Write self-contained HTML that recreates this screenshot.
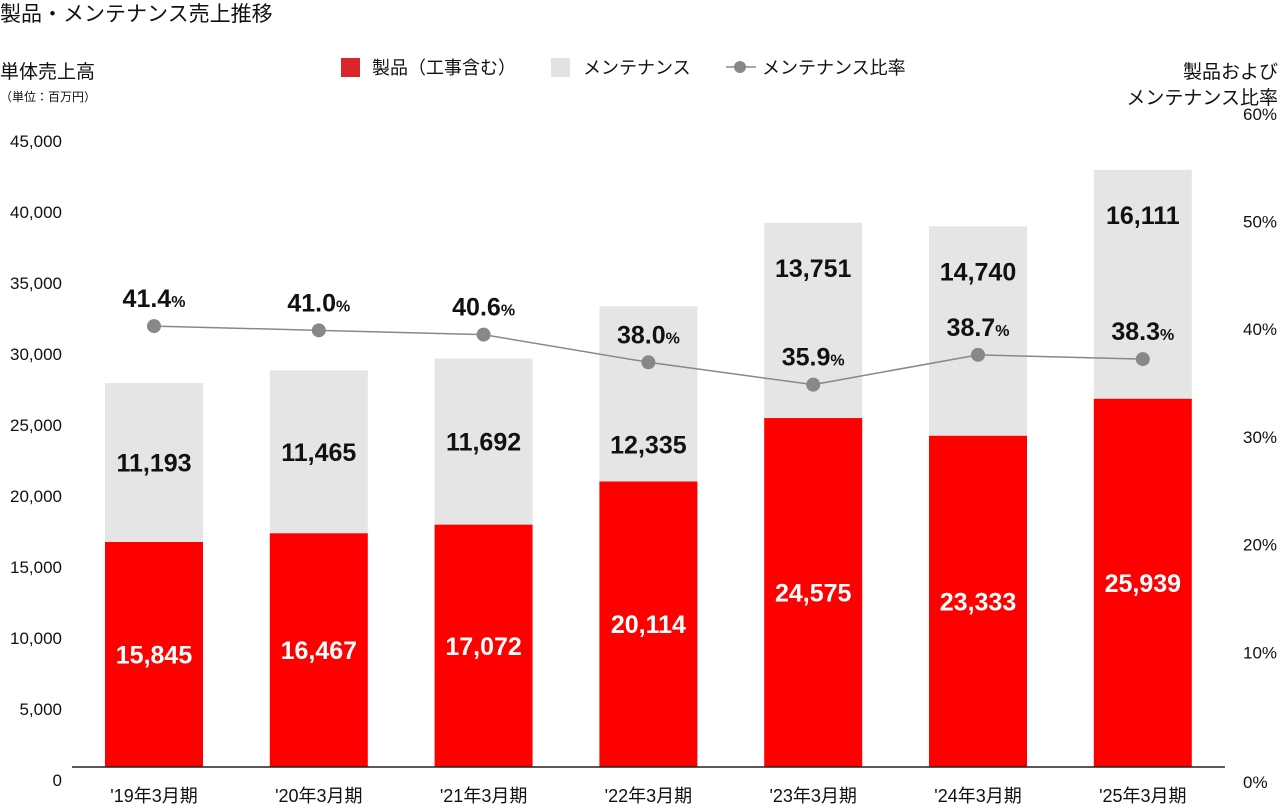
<!DOCTYPE html>
<html><head><meta charset="utf-8"><style>
body{margin:0;background:#fff;font-family:"Liberation Sans","Noto Sans CJK JP",sans-serif;}
svg text{font-family:"Liberation Sans","Noto Sans CJK JP",sans-serif;}
</style></head><body>
<svg id="chart" width="1280" height="804" viewBox="0 0 1280 804">
<text x="0" y="21" font-size="21" fill="#111">製品・メンテナンス売上推移</text>
<text x="0" y="78" font-size="19" fill="#111">単体売上高</text>
<text x="0" y="101" font-size="12" fill="#111">（単位：百万円）</text>
<text x="1278" y="78" font-size="19" fill="#111" text-anchor="end">製品および</text>
<text x="1278" y="104" font-size="19" fill="#111" text-anchor="end">メンテナンス比率</text>
<g>
<rect x="341" y="58" width="19" height="19" fill="#d9252b"/>
<text x="372" y="74" font-size="18" fill="#111">製品（工事含む）</text>
<rect x="551" y="58" width="19" height="19" fill="#e2e2e2"/>
<text x="583" y="74" font-size="18" fill="#111">メンテナンス</text>
<line x1="726" y1="67" x2="756" y2="67" stroke="#888" stroke-width="1.5"/>
<circle cx="740" cy="67" r="6" fill="#888"/>
<text x="762" y="74" font-size="18" fill="#111">メンテナンス比率</text>
</g>
<g id="plot"></g>
</svg>
<script>
const categories=["'19年3月期","'20年3月期","'21年3月期","'22年3月期","'23年3月期","'24年3月期","'25年3月期"];
const productValues=[15845,16467,17072,20114,24575,23333,25939];
const maintenanceValues=[11193,11465,11692,12335,13751,14740,16111];
const ratioValues=[41.4,41.0,40.6,38.0,35.9,38.7,38.3];
const leftTicks=[0,5000,10000,15000,20000,25000,30000,35000,40000,45000];
const rightTicks=[0,10,20,30,40,50,60];

const NS="http://www.w3.org/2000/svg";
const g=document.getElementById('plot');
const base=767, top0=128, leftMax=45000, rightMax=60;
const yL=v=>base-(v/leftMax)*(base-top0);
const yR=p=>base-(p/rightMax)*(base-top0);
const x0=154, step=164.8, bw=98;
const xC=i=>x0+i*step;
function mk(tag,attrs,parent){const e=document.createElementNS(NS,tag);for(const k in attrs)e.setAttribute(k,attrs[k]);(parent||g).appendChild(e);return e;}
leftTicks.forEach(v=>{
 const t=mk('text',{x:62,y:yL(v)+19,'font-size':17,fill:'#111','text-anchor':'end'});
 t.textContent=v.toLocaleString('en-US');
 
 
});
rightTicks.forEach(p=>{
 const t=mk('text',{x:1243,y:yR(p)+14-(p===0?0:6)+(p===0?0:0),'font-size':17,fill:'#111'});
 t.setAttribute('y',yR(p)-8+(p===0?22:0)-(p/10)*1.2+7);
 t.textContent=p+'%';
 
 
});
categories.forEach((c,i)=>{
 const x=xC(i);
 const pTop=yL(productValues[i]), tTop=yL(productValues[i]+maintenanceValues[i]);
 const r=mk('rect',{x:x-bw/2,y:pTop,width:bw,height:base-pTop,fill:'#ff0000'});
 
 
 const m=mk('rect',{x:x-bw/2,y:tTop,width:bw,height:pTop-tTop,fill:'#e5e5e5'});
 
 
 const pl=mk('text',{x:x,y:(pTop+base)/2+9,'font-size':25,'font-weight':'bold',fill:'#fff','text-anchor':'middle'});
 pl.textContent=productValues[i].toLocaleString('en-US');
 
 
 const py=yR(ratioValues[i]);
 let ly;
 if(tTop+45<py-40) ly=tTop+45; else ly=Math.max((tTop+pTop)/2,py+82);
 const ml=mk('text',{x:x,y:ly+9,'font-size':25,'font-weight':'bold',fill:'#111','text-anchor':'middle'});
 ml.textContent=maintenanceValues[i].toLocaleString('en-US');
 
 
 const xl=mk('text',{x:x,y:802,'font-size':18,fill:'#111','text-anchor':'middle'});
 xl.textContent=c;
 
 
});
const ax=mk('line',{x1:72,y1:base,x2:1225,y2:base,stroke:'#222','stroke-width':1.5});


const pts=ratioValues.map((p,i)=>xC(i)+','+yR(p)).join(' ');
const pl=mk('polyline',{points:pts,fill:'none',stroke:'#888','stroke-width':1.5});


ratioValues.forEach((p,i)=>{
 const c=mk('circle',{cx:xC(i),cy:yR(p),r:7,fill:'#888'});
 
 
 const t=mk('text',{x:xC(i),y:yR(p)-19,'font-size':25,'font-weight':'bold',fill:'#111','text-anchor':'middle'});
 
 
 const a=document.createElementNS(NS,'tspan');a.textContent=p.toFixed(1);t.appendChild(a);
 const b=document.createElementNS(NS,'tspan');b.setAttribute('font-size','16');b.textContent='%';t.appendChild(b);
});
</script>
</body></html>
